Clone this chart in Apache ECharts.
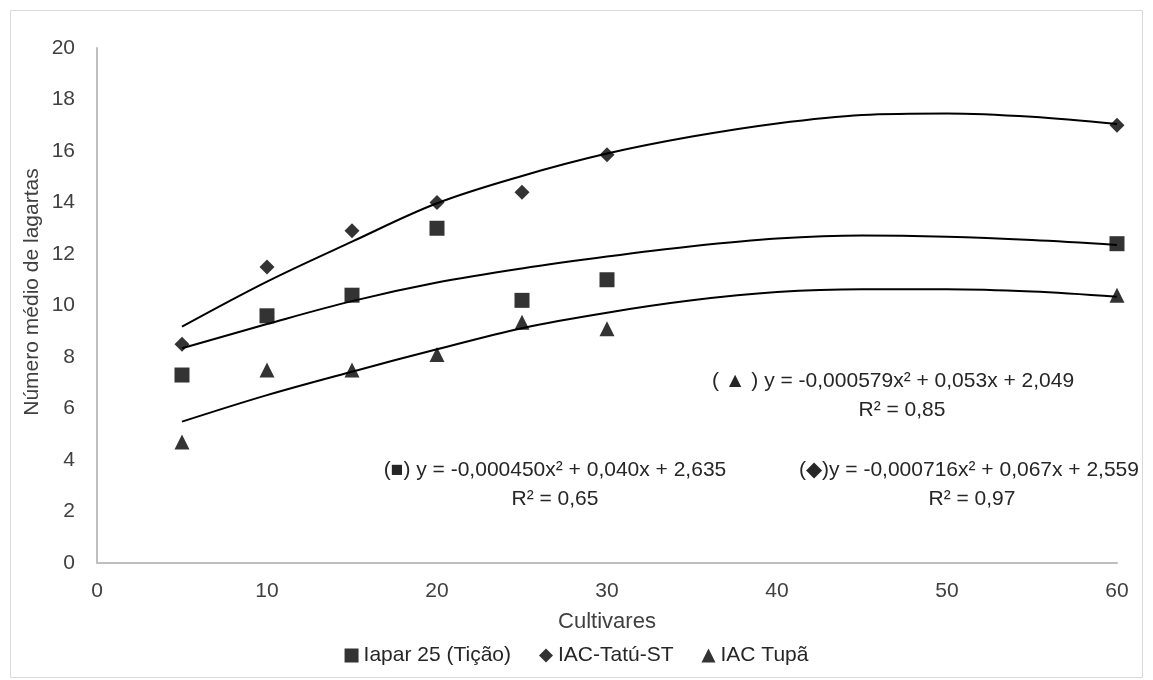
<!DOCTYPE html>
<html>
<head>
<meta charset="utf-8">
<script src="https://cdn.jsdelivr.net/npm/echarts@6/dist/echarts.min.js"></script>
<style>html,body{margin:0;padding:0;background:#fff}#c{width:1153px;height:680px}</style>
</head>
<body>
<div id="c"></div>
<script>
const xValues = [5, 10, 15, 20, 25, 30, 60];
const iapar = [7.3, 9.6, 10.4, 13.0, 10.2, 11.0, 12.4];
const tatu = [8.5, 11.5, 12.9, 14.0, 14.4, 15.85, 17.0];
const tupa = [4.7, 7.5, 7.5, 8.1, 9.35, 9.1, 10.4];

const trendX = [5, 10, 15, 20, 25, 30, 35, 40, 45, 50, 55, 60];
const iaparTrend = [8.34, 9.28, 10.17, 10.89, 11.44, 11.9, 12.3, 12.6, 12.72, 12.67, 12.54, 12.35];
const tatuTrend = [9.18, 10.93, 12.48, 13.97, 15.03, 15.9, 16.56, 17.07, 17.4, 17.46, 17.33, 17.05];
const tupaTrend = [5.49, 6.52, 7.43, 8.3, 9.12, 9.72, 10.2, 10.52, 10.63, 10.63, 10.54, 10.34];

const seriesNames = ['Iapar 25 (Tição)', 'IAC-Tatú-ST', 'IAC Tupã'];
const yTicks = [0, 2, 4, 6, 8, 10, 12, 14, 16, 18, 20];
const yTitle = 'Número médio de lagartas';
const equations = [
  '( ▲ ) y = -0,000579x² + 0,053x + 2,049', 'R² = 0,85',
  '(■) y = -0,000450x² + 0,040x + 2,635', 'R² = 0,65',
  '(◆)y = -0,000716x² + 0,067x + 2,559', 'R² = 0,97'
];

const FONT = '"Liberation Sans", Arial, sans-serif';
const TXT = '#404040';
const pairs = (xs, ys) => xs.map((x, i) => [x, ys[i]]);

const chart = echarts.init(document.getElementById('c'));
const trend = (data) => ({
  type: 'line', data, smooth: 0.35, showSymbol: false, symbol: 'none',
  lineStyle: { color: '#000', width: 2 }, z: 2, silent: true
});
const pts = (name, data, symbol, size) => ({
  type: 'scatter', name, data, symbol, symbolSize: size,
  itemStyle: { color: '#000' }, z: 5
});
const txt = (x, y, text) => ({
  type: 'text', x, y,
  style: { text, font: '21px ' + FONT, fill: '#262626', textAlign: 'center', textVerticalAlign: 'middle' }
});

chart.setOption({
  animation: false,
  textStyle: { fontFamily: FONT },
  grid: { left: 97, right: 36, top: 48, bottom: 117 },
  xAxis: {
    type: 'value', min: 0, max: 60, interval: 10,
    name: 'Cultivares', nameLocation: 'middle', nameGap: 48,
    nameTextStyle: { fontSize: 22, color: TXT, fontFamily: FONT },
    axisLine: { show: true, lineStyle: { color: '#bfbfbf', width: 2 } },
    axisTick: { show: false },
    splitLine: { show: false },
    axisLabel: { fontSize: 21, color: TXT, margin: 18, fontFamily: FONT }
  },
  yAxis: {
    type: 'value', min: yTicks[0], max: yTicks[yTicks.length - 1], interval: 2,
    axisLine: { show: true, lineStyle: { color: '#bfbfbf', width: 2 } },
    axisTick: { show: false },
    splitLine: { show: false },
    axisLabel: { fontSize: 21, color: TXT, margin: 22, fontFamily: FONT }
  },
  legend: {
    bottom: 9, left: 'center', itemGap: 28, itemWidth: 14, itemHeight: 14,
    data: [
      { name: seriesNames[0], icon: 'rect' },
      { name: seriesNames[1], icon: 'diamond' },
      { name: seriesNames[2], icon: 'triangle' }
    ],
    textStyle: { fontSize: 21, color: '#262626', fontFamily: FONT }
  },
  graphic: [
    { type: 'rect', shape: { x: 10.5, y: 10.5, width: 1132, height: 667 },
      style: { fill: 'none', stroke: '#d9d9d9', lineWidth: 1 }, silent: true },
    { type: 'text', x: 32, y: 292, rotation: Math.PI / 2,
      style: { text: yTitle, font: '21px ' + FONT, fill: TXT, textAlign: 'center', textVerticalAlign: 'middle' } },
    txt(893, 381, equations[0]),
    txt(902, 410, equations[1]),
    txt(555, 470, equations[2]),
    txt(555, 499, equations[3]),
    txt(969, 470, equations[4]),
    txt(972, 499, equations[5])
  ],
  series: [
    trend(pairs(trendX, iaparTrend)),
    trend(pairs(trendX, tatuTrend)),
    trend(pairs(trendX, tupaTrend)),
    pts(seriesNames[0], pairs(xValues, iapar), 'rect', 15),
    pts(seriesNames[1], pairs(xValues, tatu), 'diamond', 15),
    pts(seriesNames[2], pairs(xValues, tupa), 'triangle', 15)
  ]
});
</script>
</body>
</html>
